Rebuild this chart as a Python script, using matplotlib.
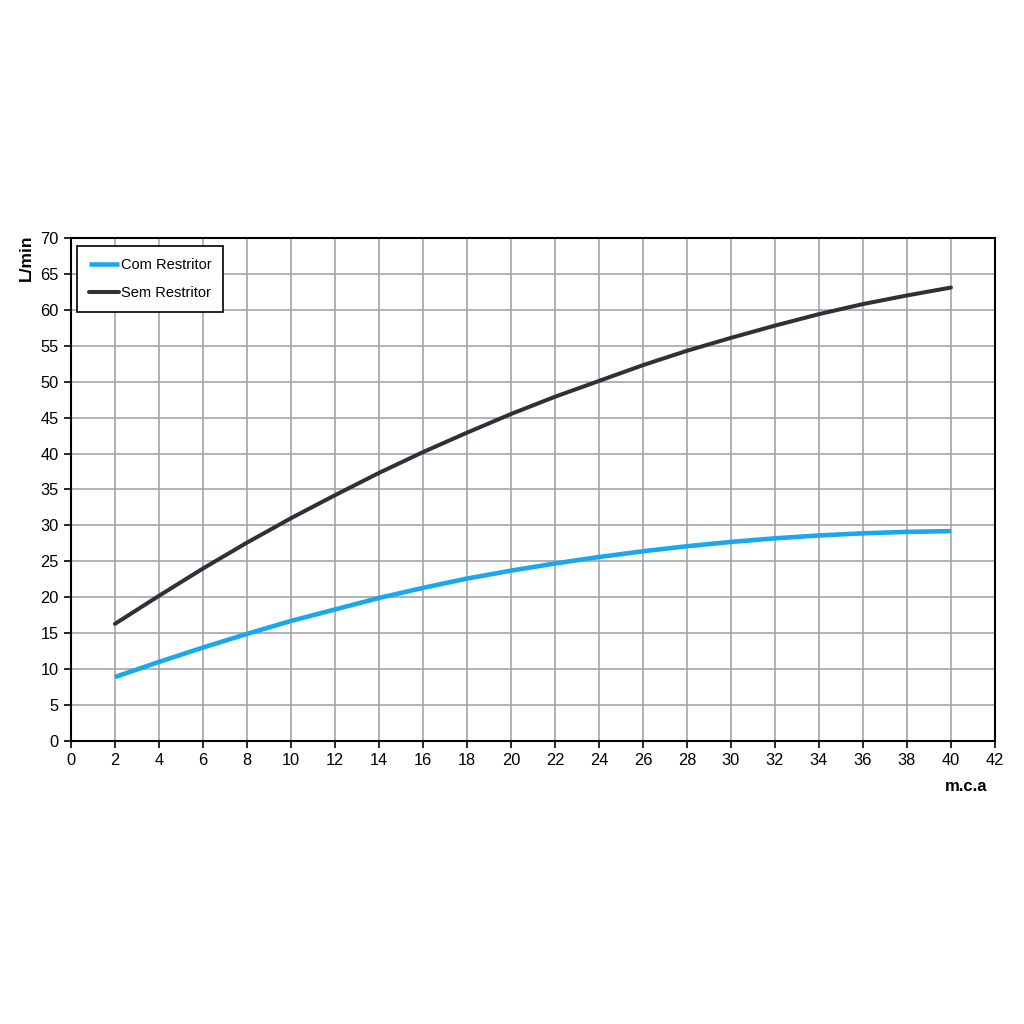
import matplotlib
matplotlib.use("Agg")
import matplotlib.pyplot as plt

# Dati
pressione = [2, 4, 6, 8, 10, 12, 14, 16, 18, 20, 22, 24, 26, 28, 30, 32, 34, 36, 38, 40]
com_restritor = [8.9, 11.0, 13.0, 14.9, 16.7, 18.3, 19.9, 21.3, 22.6, 23.7,
                 24.7, 25.6, 26.4, 27.1, 27.7, 28.2, 28.6, 28.9, 29.1, 29.2]
sem_restritor = [16.3, 20.2, 24.0, 27.6, 31.0, 34.2, 37.3, 40.2, 42.9, 45.5,
                 47.9, 50.1, 52.3, 54.3, 56.1, 57.8, 59.4, 60.8, 62.0, 63.1]
x_ticks = list(range(0, 43, 2))
y_ticks = list(range(0, 71, 5))

plt.rcParams['font.family'] = ['Liberation Sans', 'DejaVu Sans']

fig = plt.figure(figsize=(10.24, 10.24), dpi=100)
ax = fig.add_axes([0.0693, 0.2764, 0.9023, 0.4912])

ax.plot(pressione, com_restritor, color='#1aa7ec', linewidth=3.3, label='Com Restritor',
        solid_capstyle='butt')
ax.plot(pressione, sem_restritor, color='#2b3339', linewidth=2.9, label='Sem Restritor',
        solid_capstyle='round')

ax.set_xlim(0, 42)
ax.set_ylim(0, 70)
ax.set_xticks(x_ticks)
ax.set_yticks(y_ticks)
ax.grid(True, color='#a4a4aa', linewidth=1.2)
ax.set_axisbelow(True)
for s in ax.spines.values():
    s.set_linewidth(1.5)
    s.set_color('black')
ax.tick_params(axis='both', labelsize=11.8, direction='out', length=5, width=1.2, pad=4)

fig.text(0.026, 0.748, 'L/min', rotation=90, fontsize=12.5, fontweight='bold', ha='center', va='center')
fig.text(0.943, 0.232, 'm.c.a', fontsize=12, fontweight='bold', ha='center', va='center')

leg = ax.legend(loc='upper left', bbox_to_anchor=(0.0065, 0.984), borderaxespad=0,
                frameon=True, fancybox=False, edgecolor='black', fontsize=10.5,
                handlelength=2.1, handletextpad=0.1, labelspacing=1.0, borderpad=0.8,
                framealpha=1)
leg.get_frame().set_linewidth(1.2)

plt.savefig('out.png', dpi=100)
plt.close()
